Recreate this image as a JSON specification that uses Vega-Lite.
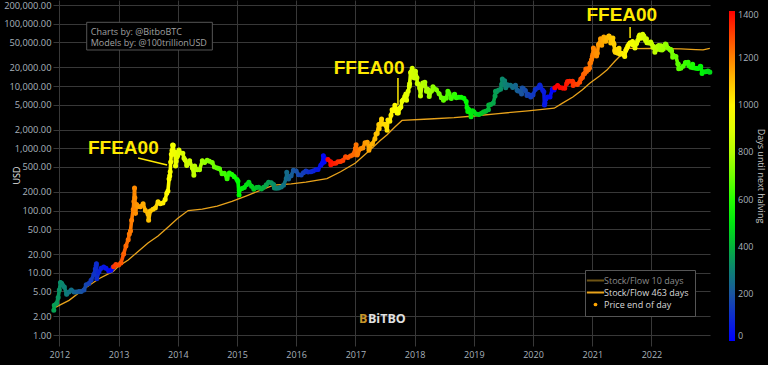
{
  "$schema": "https://vega.github.io/schema/vega-lite/v6.json",
  "width": 657,
  "height": 346,
  "autosize": {"type": "none"},
  "padding": {"left": 53, "top": 0, "right": 58, "bottom": 19},
  "background": "#000000",
  "config": {
    "view": {"stroke": null},
    "font": "Open Sans"
  },
  "datasets": {
    "price": [
      {"d":"2011-11-28","p":2.5,"h":366},{"d":"2011-12-01","p":3.0,"h":363},{"d":"2011-12-15","p":3.2,"h":349},{"d":"2011-12-25","p":4.0,"h":339},
      {"d":"2012-01-01","p":5.3,"h":332},{"d":"2012-01-08","p":7.0,"h":325},{"d":"2012-01-15","p":6.8,"h":318},{"d":"2012-01-22","p":6.3,"h":311},
      {"d":"2012-02-01","p":5.9,"h":301},{"d":"2012-02-15","p":4.5,"h":287},{"d":"2012-03-01","p":4.9,"h":272},{"d":"2012-03-15","p":5.3,"h":258},
      {"d":"2012-04-01","p":4.9,"h":241},{"d":"2012-04-15","p":4.9,"h":227},{"d":"2012-05-01","p":5.0,"h":211},{"d":"2012-05-15","p":5.0,"h":197},
      {"d":"2012-06-01","p":5.3,"h":180},{"d":"2012-06-15","p":6.4,"h":166},{"d":"2012-07-01","p":6.7,"h":150},{"d":"2012-07-15","p":7.6,"h":136},
      {"d":"2012-08-01","p":9.4,"h":119},{"d":"2012-08-10","p":11.5,"h":110},{"d":"2012-08-15","p":13.0,"h":105},{"d":"2012-08-17","p":14.0,"h":103},{"d":"2012-08-19","p":8.0,"h":101},
      {"d":"2012-09-01","p":10.3,"h":88},{"d":"2012-09-15","p":11.8,"h":74},{"d":"2012-10-01","p":12.4,"h":58},{"d":"2012-10-15","p":11.8,"h":44},
      {"d":"2012-11-01","p":10.7,"h":27},{"d":"2012-11-15","p":11.0,"h":13},{"d":"2012-11-27","p":12.2,"h":1},
      {"d":"2012-12-01","p":12.5,"h":1316},{"d":"2012-12-15","p":13.5,"h":1302},
      {"d":"2013-01-01","p":13.3,"h":1285},{"d":"2013-01-15","p":14.3,"h":1271},{"d":"2013-02-01","p":20,"h":1254},{"d":"2013-02-15","p":27,"h":1240},
      {"d":"2013-03-01","p":34,"h":1226},{"d":"2013-03-08","p":42,"h":1219},{"d":"2013-03-15","p":47,"h":1212},{"d":"2013-03-22","p":70,"h":1205},
      {"d":"2013-04-01","p":104,"h":1195},{"d":"2013-04-05","p":140,"h":1191},{"d":"2013-04-09","p":230,"h":1187},{"d":"2013-04-11","p":160,"h":1185},
      {"d":"2013-04-15","p":90,"h":1181},{"d":"2013-04-22","p":125,"h":1174},{"d":"2013-05-01","p":116,"h":1165},{"d":"2013-05-15","p":115,"h":1151},
      {"d":"2013-06-01","p":128,"h":1134},{"d":"2013-06-15","p":100,"h":1120},{"d":"2013-07-01","p":88,"h":1104},{"d":"2013-07-05","p":70,"h":1100},
      {"d":"2013-07-15","p":98,"h":1090},{"d":"2013-08-01","p":105,"h":1073},{"d":"2013-08-15","p":110,"h":1059},{"d":"2013-09-01","p":138,"h":1042},
      {"d":"2013-09-15","p":128,"h":1028},{"d":"2013-10-01","p":132,"h":1012},{"d":"2013-10-15","p":150,"h":998},{"d":"2013-10-25","p":190,"h":988},
      {"d":"2013-11-01","p":205,"h":981},{"d":"2013-11-08","p":320,"h":974},{"d":"2013-11-12","p":360,"h":970},{"d":"2013-11-15","p":420,"h":967},
      {"d":"2013-11-18","p":600,"h":964},{"d":"2013-11-22","p":800,"h":960},{"d":"2013-11-26","p":920,"h":956},{"d":"2013-11-30","p":1130,"h":952},
      {"d":"2013-12-04","p":1120,"h":948},{"d":"2013-12-08","p":800,"h":944},{"d":"2013-12-15","p":870,"h":937},{"d":"2013-12-18","p":520,"h":934},
      {"d":"2013-12-22","p":620,"h":930},{"d":"2013-12-28","p":730,"h":924},
      {"d":"2014-01-01","p":770,"h":920},{"d":"2014-01-08","p":940,"h":913},{"d":"2014-01-15","p":850,"h":906},{"d":"2014-02-01","p":830,"h":889},
      {"d":"2014-02-08","p":690,"h":882},{"d":"2014-02-15","p":650,"h":875},{"d":"2014-02-25","p":530,"h":865},{"d":"2014-03-01","p":560,"h":861},
      {"d":"2014-03-15","p":630,"h":847},{"d":"2014-04-01","p":480,"h":830},{"d":"2014-04-10","p":370,"h":821},{"d":"2014-04-15","p":520,"h":816},
      {"d":"2014-05-01","p":450,"h":800},{"d":"2014-05-15","p":450,"h":786},{"d":"2014-06-01","p":630,"h":769},{"d":"2014-06-15","p":590,"h":755},
      {"d":"2014-07-01","p":640,"h":739},{"d":"2014-07-15","p":620,"h":725},{"d":"2014-08-01","p":590,"h":708},{"d":"2014-08-15","p":500,"h":694},
      {"d":"2014-09-01","p":480,"h":677},{"d":"2014-09-15","p":470,"h":663},{"d":"2014-10-01","p":390,"h":647},{"d":"2014-10-15","p":395,"h":633},
      {"d":"2014-11-01","p":325,"h":616},{"d":"2014-11-15","p":400,"h":602},{"d":"2014-12-01","p":380,"h":586},{"d":"2014-12-15","p":350,"h":572},
      {"d":"2015-01-01","p":315,"h":555},{"d":"2015-01-07","p":295,"h":549},{"d":"2015-01-14","p":178,"h":542},{"d":"2015-01-15","p":210,"h":541},
      {"d":"2015-02-01","p":225,"h":524},{"d":"2015-02-15","p":235,"h":510},{"d":"2015-03-01","p":260,"h":496},{"d":"2015-03-15","p":285,"h":482},
      {"d":"2015-04-01","p":245,"h":465},{"d":"2015-04-15","p":220,"h":451},{"d":"2015-05-01","p":235,"h":435},{"d":"2015-05-15","p":237,"h":421},
      {"d":"2015-06-01","p":222,"h":404},{"d":"2015-06-15","p":236,"h":390},{"d":"2015-07-01","p":258,"h":374},{"d":"2015-07-15","p":285,"h":360},
      {"d":"2015-08-01","p":280,"h":343},{"d":"2015-08-15","p":262,"h":329},{"d":"2015-08-20","p":230,"h":324},{"d":"2015-09-01","p":228,"h":312},
      {"d":"2015-09-15","p":230,"h":298},{"d":"2015-10-01","p":238,"h":282},{"d":"2015-10-15","p":255,"h":268},{"d":"2015-11-01","p":325,"h":251},
      {"d":"2015-11-04","p":410,"h":248},{"d":"2015-11-15","p":320,"h":237},{"d":"2015-12-01","p":362,"h":221},{"d":"2015-12-15","p":445,"h":207},
      {"d":"2016-01-01","p":432,"h":190},{"d":"2016-01-15","p":375,"h":176},{"d":"2016-02-01","p":372,"h":159},{"d":"2016-02-15","p":405,"h":145},
      {"d":"2016-03-01","p":432,"h":130},{"d":"2016-03-15","p":415,"h":116},{"d":"2016-04-01","p":418,"h":99},{"d":"2016-04-15","p":430,"h":85},
      {"d":"2016-05-01","p":450,"h":69},{"d":"2016-05-15","p":457,"h":55},{"d":"2016-06-01","p":535,"h":38},{"d":"2016-06-10","p":575,"h":29},
      {"d":"2016-06-17","p":760,"h":22},{"d":"2016-06-22","p":600,"h":17},{"d":"2016-07-01","p":670,"h":8},{"d":"2016-07-08","p":665,"h":1},
      {"d":"2016-07-15","p":662,"h":1396},{"d":"2016-08-01","p":605,"h":1379},{"d":"2016-08-02","p":545,"h":1378},{"d":"2016-08-15","p":568,"h":1365},
      {"d":"2016-09-01","p":573,"h":1348},{"d":"2016-09-15","p":608,"h":1334},{"d":"2016-10-01","p":612,"h":1318},{"d":"2016-10-15","p":638,"h":1304},
      {"d":"2016-11-01","p":730,"h":1287},{"d":"2016-11-15","p":710,"h":1273},{"d":"2016-12-01","p":752,"h":1257},{"d":"2016-12-15","p":777,"h":1243},
      {"d":"2017-01-01","p":998,"h":1226},{"d":"2017-01-05","p":1140,"h":1222},{"d":"2017-01-11","p":780,"h":1216},{"d":"2017-01-15","p":820,"h":1212},
      {"d":"2017-02-01","p":985,"h":1195},{"d":"2017-02-15","p":1010,"h":1181},{"d":"2017-03-01","p":1220,"h":1167},{"d":"2017-03-15","p":1250,"h":1153},
      {"d":"2017-03-25","p":930,"h":1143},{"d":"2017-04-01","p":1080,"h":1136},{"d":"2017-04-15","p":1180,"h":1122},{"d":"2017-05-01","p":1420,"h":1106},
      {"d":"2017-05-08","p":1700,"h":1099},{"d":"2017-05-15","p":1730,"h":1092},{"d":"2017-05-25","p":2400,"h":1082},{"d":"2017-05-27","p":2050,"h":1080},
      {"d":"2017-06-01","p":2400,"h":1075},{"d":"2017-06-11","p":2950,"h":1065},{"d":"2017-06-15","p":2450,"h":1061},{"d":"2017-07-01","p":2430,"h":1045},
      {"d":"2017-07-15","p":1950,"h":1031},{"d":"2017-07-20","p":2850,"h":1026},{"d":"2017-08-01","p":2720,"h":1014},{"d":"2017-08-08","p":3400,"h":1007},
      {"d":"2017-08-15","p":4150,"h":1000},{"d":"2017-08-22","p":4000,"h":993},{"d":"2017-09-01","p":4900,"h":983},{"d":"2017-09-08","p":4300,"h":976},
      {"d":"2017-09-15","p":3700,"h":969},{"d":"2017-09-22","p":3700,"h":961},{"d":"2017-10-01","p":4400,"h":953},{"d":"2017-10-08","p":4600,"h":946},
      {"d":"2017-10-15","p":5700,"h":939},{"d":"2017-10-22","p":6000,"h":932},{"d":"2017-11-01","p":6750,"h":922},{"d":"2017-11-08","p":7450,"h":915},
      {"d":"2017-11-12","p":5900,"h":911},{"d":"2017-11-15","p":7300,"h":908},{"d":"2017-11-22","p":8200,"h":901},{"d":"2017-11-29","p":9900,"h":894},
      {"d":"2017-12-01","p":10900,"h":892},{"d":"2017-12-07","p":16500,"h":886},{"d":"2017-12-11","p":16700,"h":882},{"d":"2017-12-15","p":17600,"h":878},
      {"d":"2017-12-17","p":19300,"h":876},{"d":"2017-12-22","p":13800,"h":871},{"d":"2017-12-27","p":15700,"h":866},
      {"d":"2018-01-01","p":13500,"h":861},{"d":"2018-01-06","p":17200,"h":856},{"d":"2018-01-15","p":13600,"h":847},{"d":"2018-01-17","p":11000,"h":845},
      {"d":"2018-01-22","p":10900,"h":840},{"d":"2018-02-01","p":9200,"h":830},{"d":"2018-02-06","p":6900,"h":825},{"d":"2018-02-15","p":10100,"h":816},
      {"d":"2018-02-20","p":11200,"h":811},{"d":"2018-03-01","p":10900,"h":802},{"d":"2018-03-05","p":11500,"h":798},{"d":"2018-03-15","p":8250,"h":788},
      {"d":"2018-03-22","p":8900,"h":781},{"d":"2018-04-01","p":6800,"h":771},{"d":"2018-04-15","p":8350,"h":757},{"d":"2018-04-24","p":9700,"h":748},
      {"d":"2018-05-01","p":9100,"h":741},{"d":"2018-05-15","p":8700,"h":727},{"d":"2018-06-01","p":7500,"h":710},{"d":"2018-06-15","p":6500,"h":696},
      {"d":"2018-06-28","p":5900,"h":683},{"d":"2018-07-01","p":6350,"h":680},{"d":"2018-07-15","p":6350,"h":666},{"d":"2018-07-25","p":8200,"h":656},
      {"d":"2018-08-01","p":7600,"h":649},{"d":"2018-08-15","p":6300,"h":635},{"d":"2018-09-01","p":7200,"h":618},{"d":"2018-09-05","p":7400,"h":614},
      {"d":"2018-09-15","p":6500,"h":604},{"d":"2018-10-01","p":6600,"h":588},{"d":"2018-10-15","p":6600,"h":574},{"d":"2018-11-01","p":6350,"h":557},
      {"d":"2018-11-15","p":5650,"h":543},{"d":"2018-11-20","p":4500,"h":538},{"d":"2018-11-25","p":3900,"h":533},{"d":"2018-12-01","p":4200,"h":527},
      {"d":"2018-12-15","p":3200,"h":513},{"d":"2018-12-24","p":4000,"h":504},
      {"d":"2019-01-01","p":3850,"h":496},{"d":"2019-01-15","p":3550,"h":482},{"d":"2019-02-01","p":3480,"h":465},{"d":"2019-02-15","p":3620,"h":451},
      {"d":"2019-03-01","p":3820,"h":437},{"d":"2019-03-15","p":3920,"h":423},{"d":"2019-04-01","p":4150,"h":406},{"d":"2019-04-03","p":4950,"h":404},
      {"d":"2019-04-15","p":5050,"h":392},{"d":"2019-05-01","p":5350,"h":376},{"d":"2019-05-12","p":6900,"h":365},{"d":"2019-05-15","p":8200,"h":362},
      {"d":"2019-05-20","p":8000,"h":357},{"d":"2019-06-01","p":8550,"h":345},{"d":"2019-06-15","p":8850,"h":331},{"d":"2019-06-22","p":10700,"h":324},
      {"d":"2019-06-26","p":12900,"h":320},{"d":"2019-07-01","p":10600,"h":315},{"d":"2019-07-10","p":12100,"h":306},{"d":"2019-07-15","p":10900,"h":301},
      {"d":"2019-07-17","p":9400,"h":299},{"d":"2019-08-01","p":10400,"h":284},{"d":"2019-08-15","p":10300,"h":270},{"d":"2019-08-29","p":9500,"h":256},
      {"d":"2019-09-01","p":9800,"h":253},{"d":"2019-09-15","p":10300,"h":239},{"d":"2019-09-25","p":8550,"h":230},{"d":"2019-10-01","p":8300,"h":223},
      {"d":"2019-10-15","p":8150,"h":209},{"d":"2019-10-23","p":7450,"h":201},{"d":"2019-10-26","p":9250,"h":198},{"d":"2019-11-01","p":9200,"h":192},
      {"d":"2019-11-15","p":8500,"h":178},{"d":"2019-11-25","p":7050,"h":168},{"d":"2019-12-01","p":7400,"h":162},{"d":"2019-12-15","p":7100,"h":148},
      {"d":"2019-12-18","p":6650,"h":145},
      {"d":"2020-01-01","p":7200,"h":131},{"d":"2020-01-15","p":8800,"h":117},{"d":"2020-02-01","p":9400,"h":100},{"d":"2020-02-12","p":10350,"h":89},
      {"d":"2020-02-15","p":9900,"h":86},{"d":"2020-03-01","p":8550,"h":71},{"d":"2020-03-08","p":8050,"h":64},{"d":"2020-03-12","p":4950,"h":60},
      {"d":"2020-03-15","p":5350,"h":57},{"d":"2020-03-20","p":6200,"h":52},{"d":"2020-04-01","p":6650,"h":40},{"d":"2020-04-15","p":6650,"h":26},
      {"d":"2020-04-29","p":8800,"h":12},{"d":"2020-05-01","p":8850,"h":10},{"d":"2020-05-10","p":8600,"h":1},
      {"d":"2020-05-15","p":9400,"h":1436},{"d":"2020-06-01","p":10200,"h":1419},{"d":"2020-06-15","p":9450,"h":1405},{"d":"2020-07-01","p":9250,"h":1389},
      {"d":"2020-07-15","p":9200,"h":1375},{"d":"2020-07-27","p":11000,"h":1363},{"d":"2020-08-01","p":11800,"h":1358},{"d":"2020-08-15","p":11900,"h":1344},
      {"d":"2020-09-01","p":11950,"h":1327},{"d":"2020-09-05","p":10200,"h":1323},{"d":"2020-09-15","p":10800,"h":1313},{"d":"2020-10-01","p":10600,"h":1297},
      {"d":"2020-10-15","p":11500,"h":1283},{"d":"2020-10-22","p":12950,"h":1276},{"d":"2020-11-01","p":13750,"h":1266},{"d":"2020-11-08","p":15500,"h":1259},
      {"d":"2020-11-15","p":15950,"h":1252},{"d":"2020-11-22","p":18700,"h":1245},{"d":"2020-11-26","p":17100,"h":1241},{"d":"2020-12-01","p":18800,"h":1236},
      {"d":"2020-12-08","p":18300,"h":1229},{"d":"2020-12-15","p":19400,"h":1222},{"d":"2020-12-17","p":23000,"h":1220},{"d":"2020-12-22","p":23800,"h":1215},
      {"d":"2020-12-27","p":26300,"h":1210},
      {"d":"2021-01-01","p":29400,"h":1205},{"d":"2021-01-04","p":32000,"h":1202},{"d":"2021-01-08","p":40600,"h":1198},{"d":"2021-01-11","p":35500,"h":1195},
      {"d":"2021-01-15","p":36800,"h":1191},{"d":"2021-01-22","p":33000,"h":1184},{"d":"2021-01-27","p":30400,"h":1179},{"d":"2021-02-01","p":33500,"h":1174},
      {"d":"2021-02-08","p":46200,"h":1167},{"d":"2021-02-15","p":48700,"h":1160},{"d":"2021-02-21","p":57500,"h":1154},{"d":"2021-02-28","p":45200,"h":1147},
      {"d":"2021-03-01","p":49600,"h":1146},{"d":"2021-03-08","p":52300,"h":1139},{"d":"2021-03-13","p":61200,"h":1134},{"d":"2021-03-15","p":55900,"h":1132},
      {"d":"2021-03-25","p":52300,"h":1122},{"d":"2021-04-01","p":58800,"h":1115},{"d":"2021-04-13","p":63500,"h":1103},{"d":"2021-04-15","p":63100,"h":1101},
      {"d":"2021-04-25","p":49000,"h":1091},{"d":"2021-05-01","p":57800,"h":1085},{"d":"2021-05-08","p":58800,"h":1078},{"d":"2021-05-12","p":49100,"h":1074},
      {"d":"2021-05-15","p":46700,"h":1071},{"d":"2021-05-19","p":37000,"h":1067},{"d":"2021-05-23","p":34700,"h":1063},{"d":"2021-05-27","p":38400,"h":1059},
      {"d":"2021-06-01","p":36600,"h":1054},{"d":"2021-06-08","p":33500,"h":1047},{"d":"2021-06-15","p":40200,"h":1040},{"d":"2021-06-22","p":32500,"h":1033},
      {"d":"2021-07-01","p":33500,"h":1024},{"d":"2021-07-15","p":31800,"h":1010},{"d":"2021-07-20","p":29800,"h":1005},{"d":"2021-07-26","p":37300,"h":999},
      {"d":"2021-08-01","p":39900,"h":993},{"d":"2021-08-08","p":43800,"h":986},{"d":"2021-08-15","p":47000,"h":979},{"d":"2021-08-22","p":49300,"h":972},
      {"d":"2021-09-01","p":48800,"h":962},{"d":"2021-09-06","p":51750,"h":957},{"d":"2021-09-08","p":46100,"h":955},{"d":"2021-09-15","p":48100,"h":948},
      {"d":"2021-09-21","p":40700,"h":942},{"d":"2021-10-01","p":48200,"h":932},{"d":"2021-10-08","p":53900,"h":925},{"d":"2021-10-15","p":61600,"h":918},
      {"d":"2021-10-20","p":65900,"h":913},{"d":"2021-10-27","p":58500,"h":906},{"d":"2021-11-01","p":61300,"h":901},{"d":"2021-11-08","p":67500,"h":894},
      {"d":"2021-11-15","p":63600,"h":887},{"d":"2021-11-19","p":58000,"h":883},{"d":"2021-11-26","p":53600,"h":876},{"d":"2021-12-01","p":57200,"h":871},
      {"d":"2021-12-04","p":49400,"h":868},{"d":"2021-12-15","p":48900,"h":857},{"d":"2021-12-27","p":50700,"h":845},
      {"d":"2022-01-01","p":47700,"h":840},{"d":"2022-01-10","p":41800,"h":831},{"d":"2022-01-15","p":43100,"h":826},{"d":"2022-01-22","p":35000,"h":819},
      {"d":"2022-02-01","p":38700,"h":809},{"d":"2022-02-10","p":43600,"h":800},{"d":"2022-02-15","p":44600,"h":795},{"d":"2022-02-24","p":38300,"h":786},
      {"d":"2022-03-01","p":44400,"h":781},{"d":"2022-03-07","p":38000,"h":775},{"d":"2022-03-15","p":39300,"h":767},{"d":"2022-03-28","p":47100,"h":754},
      {"d":"2022-04-01","p":46300,"h":750},{"d":"2022-04-15","p":40500,"h":736},{"d":"2022-04-26","p":38100,"h":725},{"d":"2022-05-01","p":38500,"h":720},
      {"d":"2022-05-05","p":36600,"h":716},{"d":"2022-05-12","p":29000,"h":709},{"d":"2022-05-15","p":31300,"h":706},{"d":"2022-06-01","p":29800,"h":689},
      {"d":"2022-06-13","p":22500,"h":677},{"d":"2022-06-15","p":22600,"h":675},{"d":"2022-06-18","p":19000,"h":672},{"d":"2022-07-01","p":19300,"h":659},
      {"d":"2022-07-15","p":20800,"h":645},{"d":"2022-07-30","p":23800,"h":630},{"d":"2022-08-01","p":23300,"h":628},{"d":"2022-08-15","p":24100,"h":614},
      {"d":"2022-08-20","p":21100,"h":609},{"d":"2022-09-01","p":20100,"h":597},{"d":"2022-09-12","p":22400,"h":586},{"d":"2022-09-15","p":19700,"h":583},
      {"d":"2022-10-01","p":19300,"h":567},{"d":"2022-10-15","p":19100,"h":553},{"d":"2022-10-29","p":20800,"h":539},{"d":"2022-11-01","p":20500,"h":536},
      {"d":"2022-11-09","p":15900,"h":528},{"d":"2022-11-15","p":16900,"h":522},{"d":"2022-12-01","p":17000,"h":506},{"d":"2022-12-15","p":17400,"h":492},
      {"d":"2022-12-20","p":16900,"h":487},{"d":"2022-12-27","p":16700,"h":480}
    ],
    "sf": [
      {"d":"2011-11-28","p":2.7,"s":"Stock/Flow 463 days"},{"d":"2012-03-01","p":3.6,"s":"Stock/Flow 463 days"},
      {"d":"2012-06-01","p":5.5,"s":"Stock/Flow 463 days"},{"d":"2012-09-01","p":8.0,"s":"Stock/Flow 463 days"},
      {"d":"2012-11-28","p":10.5,"s":"Stock/Flow 463 days"},{"d":"2013-01-01","p":12.8,"s":"Stock/Flow 463 days"},
      {"d":"2013-03-01","p":16,"s":"Stock/Flow 463 days"},{"d":"2013-05-01","p":22,"s":"Stock/Flow 463 days"},
      {"d":"2013-07-01","p":30,"s":"Stock/Flow 463 days"},{"d":"2013-09-01","p":39,"s":"Stock/Flow 463 days"},
      {"d":"2013-11-01","p":54,"s":"Stock/Flow 463 days"},{"d":"2014-01-01","p":75,"s":"Stock/Flow 463 days"},
      {"d":"2014-03-06","p":100,"s":"Stock/Flow 463 days"},{"d":"2014-06-01","p":105,"s":"Stock/Flow 463 days"},
      {"d":"2014-09-01","p":118,"s":"Stock/Flow 463 days"},{"d":"2014-12-01","p":140,"s":"Stock/Flow 463 days"},
      {"d":"2015-03-01","p":172,"s":"Stock/Flow 463 days"},{"d":"2015-06-01","p":215,"s":"Stock/Flow 463 days"},
      {"d":"2015-08-15","p":255,"s":"Stock/Flow 463 days"},{"d":"2015-12-01","p":268,"s":"Stock/Flow 463 days"},
      {"d":"2016-03-01","p":285,"s":"Stock/Flow 463 days"},{"d":"2016-07-09","p":325,"s":"Stock/Flow 463 days"},
      {"d":"2016-10-01","p":420,"s":"Stock/Flow 463 days"},{"d":"2017-01-01","p":580,"s":"Stock/Flow 463 days"},
      {"d":"2017-04-01","p":940,"s":"Stock/Flow 463 days"},{"d":"2017-06-01","p":1320,"s":"Stock/Flow 463 days"},
      {"d":"2017-07-15","p":1650,"s":"Stock/Flow 463 days"},{"d":"2017-09-01","p":2200,"s":"Stock/Flow 463 days"},
      {"d":"2017-10-15","p":2800,"s":"Stock/Flow 463 days"},{"d":"2018-04-01","p":2950,"s":"Stock/Flow 463 days"},
      {"d":"2018-09-01","p":3100,"s":"Stock/Flow 463 days"},{"d":"2019-01-01","p":3300,"s":"Stock/Flow 463 days"},
      {"d":"2019-06-01","p":3600,"s":"Stock/Flow 463 days"},{"d":"2019-12-01","p":4000,"s":"Stock/Flow 463 days"},
      {"d":"2020-05-11","p":4400,"s":"Stock/Flow 463 days"},{"d":"2020-07-01","p":5300,"s":"Stock/Flow 463 days"},
      {"d":"2020-09-03","p":6650,"s":"Stock/Flow 463 days"},{"d":"2020-11-01","p":8700,"s":"Stock/Flow 463 days"},
      {"d":"2020-12-18","p":11200,"s":"Stock/Flow 463 days"},{"d":"2021-02-15","p":14500,"s":"Stock/Flow 463 days"},
      {"d":"2021-04-01","p":18000,"s":"Stock/Flow 463 days"},{"d":"2021-05-20","p":25000,"s":"Stock/Flow 463 days"},
      {"d":"2021-07-09","p":33900,"s":"Stock/Flow 463 days"},{"d":"2021-08-17","p":40500,"s":"Stock/Flow 463 days"},
      {"d":"2021-10-01","p":40000,"s":"Stock/Flow 463 days"},{"d":"2022-01-01","p":40300,"s":"Stock/Flow 463 days"},
      {"d":"2022-04-01","p":40000,"s":"Stock/Flow 463 days"},{"d":"2022-07-01","p":39500,"s":"Stock/Flow 463 days"},
      {"d":"2022-10-01","p":38500,"s":"Stock/Flow 463 days"},{"d":"2022-11-15","p":38000,"s":"Stock/Flow 463 days"},
      {"d":"2022-12-27","p":40300,"s":"Stock/Flow 463 days"}
    ],
    "notes": [
      {"d":"2013-01-30","p":1010,"t":"FFEA00"},
      {"d":"2017-03-26","p":19450,"t":"FFEA00"},
      {"d":"2021-07-02","p":138000,"t":"FFEA00"}
    ],
    "pointers": [
      {"d":"2013-05-01","p":697,"d2":"2013-10-27","p2":538},
      {"d":"2017-09-20","p":13450,"d2":"2017-09-20","p2":4950},
      {"d":"2021-08-22","p":88700,"d2":"2021-08-22","p2":59000}
    ],
    "box": [
      {"d":"2012-06-18","p":105500,"d2":"2014-08-02","p2":37900}
    ],
    "info": [
      {"d":"2012-07-13","p":73700,"t":"Charts by: @BitboBTC"},
      {"d":"2012-07-13","p":49100,"t":"Models by: @100trillionUSD"}
    ],
    "logo": [
      {"d":"2017-01-23","p":1.8,"t":"B","k":"icon"},
      {"d":"2017-03-19","p":1.8,"t":"BiTBO","k":"word"}
    ]
  },
  "encoding": {
    "x": {
      "field": "d",
      "type": "temporal",
      "scale": {"domain": [{"year": 2011, "month": 11, "date": 23}, {"year": 2022, "month": 12, "date": 28}]},
      "axis": {
        "title": null,
        "format": "%Y",
        "tickCount": {"interval": "year", "step": 1},
        "grid": true,
        "gridColor": "#383838",
        "domain": false,
        "ticks": false,
        "labelColor": "#a8b2bc",
        "labelFontSize": 9,
        "labelFont": "Open Sans",
        "labelPadding": 4,
        "labelFlush": false
      }
    },
    "y": {
      "field": "p",
      "type": "quantitative",
      "scale": {"type": "log", "domain": [0.666, 240800], "nice": false},
      "axis": {
        "title": "USD",
        "values": [1, 2, 5, 10, 20, 50, 100, 200, 500, 1000, 2000, 5000, 10000, 20000, 50000, 100000, 200000],
        "format": ",.2f",
        "grid": true,
        "gridColor": "#383838",
        "domain": false,
        "ticks": false,
        "labelColor": "#a8b2bc",
        "labelFontSize": 9.3,
        "labelFont": "Open Sans",
        "labelPadding": 2,
        "labelFlush": false,
        "titleColor": "#e8e8e8",
        "titleFontSize": 9,
        "titleFontWeight": "normal",
        "titleFont": "Open Sans",
        "titleX": -37,
        "titleY": 175,
        "titleAlign": "center",
        "titleBaseline": "middle",
        "titleAngle": 270
      }
    }
  },
  "layer": [
    {
      "data": {"name": "box"},
      "mark": {"type": "rect", "fill": "#000000", "stroke": "#555555", "strokeWidth": 1},
      "encoding": {"x2": {"field": "d2"}, "y2": {"field": "p2"}}
    },
    {
      "data": {"name": "sf"},
      "mark": {"type": "line", "strokeWidth": 1.3},
      "encoding": {
        "stroke": {
          "field": "s",
          "type": "nominal",
          "scale": {
            "domain": ["Stock/Flow 10 days", "Stock/Flow 463 days", "Price end of day"],
            "range": ["#6e5414", "#e9a31b", "#ffa500"]
          },
          "legend": {
            "title": null,
            "orient": "none",
            "legendX": 532,
            "legendY": 270,
            "padding": 6,
            "fillColor": "#000000",
            "strokeColor": "#555555",
            "symbolType": "stroke",
            "symbolSize": 300,
            "symbolStrokeWidth": 2,
            "labelFontSize": 9,
            "labelFont": "Open Sans",
            "labelColor": "#d8d8d8",
            "labelOffset": 4,
            "rowPadding": 2,
            "encode": {
              "symbols": {
                "update": {
                  "shape": {"signal": "datum.value === 'Price end of day' ? 'circle' : 'stroke'"},
                  "size": {"signal": "datum.value === 'Price end of day' ? 14 : 300"},
                  "fill": {"signal": "datum.value === 'Price end of day' ? '#ffa500' : 'transparent'"},
                  "strokeWidth": {"signal": "datum.value === 'Price end of day' ? 0 : 2"}
                }
              },
              "labels": {
                "update": {
                  "fill": {"signal": "datum.value === 'Stock/Flow 10 days' ? '#8a8a8a' : '#d8d8d8'"}
                }
              }
            }
          }
        }
      }
    },
    {
      "data": {"name": "price"},
      "transform": [
        {"window": [{"op": "lead", "field": "d", "as": "dn"}, {"op": "lead", "field": "p", "as": "pn"}], "sort": [{"field": "d", "order": "ascending"}]},
        {"filter": "datum.pn != null"}
      ],
      "mark": {"type": "rule", "strokeWidth": 3.6, "strokeCap": "round"},
      "encoding": {
        "x2": {"field": "dn"},
        "y2": {"field": "pn"},
        "color": {
          "field": "h",
          "type": "quantitative",
          "scale": {
            "domain": [0, 200, 320, 450, 550, 700, 820, 980, 1100, 1230, 1400],
            "range": ["#0000ff", "#1a55a0", "#0a8a6a", "#00cc20", "#00ff00", "#70ff00", "#c0ff00", "#ffff00", "#ffc000", "#ff7000", "#ff0000"],
            "interpolate": "rgb",
            "clamp": true
          },
          "legend": {
            "type": "gradient",
            "orient": "none",
            "legendX": 676,
            "legendY": 11,
            "padding": 0,
            "direction": "vertical",
            "gradientLength": 330,
            "gradientThickness": 6,
            "gradientStrokeWidth": 0,
            "values": [0, 200, 400, 600, 800, 1000, 1200, 1400],
            "format": "d",
            "labelFontSize": 9,
            "labelFont": "Open Sans",
            "labelColor": "#a8b2bc",
            "labelOffset": 3,
            "title": "Days until next halving",
            "titleOrient": "right",
            "titleAngle": 270,
            "titleAnchor": "middle",
            "titleColor": "#c8c8c8",
            "titleFontSize": 9,
            "titleFont": "Open Sans",
            "titleFontWeight": "normal",
            "titlePadding": -3
          }
        }
      }
    },
    {
      "data": {"name": "price"},
      "mark": {"type": "circle", "filled": false, "size": 7, "strokeWidth": 2.4, "opacity": 1},
      "encoding": {
        "color": {
          "field": "h",
          "type": "quantitative",
          "scale": {
            "domain": [0, 200, 320, 450, 550, 700, 820, 980, 1100, 1230, 1400],
            "range": ["#0000ff", "#1a55a0", "#0a8a6a", "#00cc20", "#00ff00", "#70ff00", "#c0ff00", "#ffff00", "#ffc000", "#ff7000", "#ff0000"],
            "interpolate": "rgb",
            "clamp": true
          },
          "legend": {
            "type": "gradient",
            "orient": "none",
            "legendX": 676,
            "legendY": 11,
            "padding": 0,
            "direction": "vertical",
            "gradientLength": 330,
            "gradientThickness": 6,
            "gradientStrokeWidth": 0,
            "values": [0, 200, 400, 600, 800, 1000, 1200, 1400],
            "format": "d",
            "labelFontSize": 9,
            "labelFont": "Open Sans",
            "labelColor": "#a8b2bc",
            "labelOffset": 3,
            "title": "Days until next halving",
            "titleOrient": "right",
            "titleAngle": 270,
            "titleAnchor": "middle",
            "titleColor": "#c8c8c8",
            "titleFontSize": 9,
            "titleFont": "Open Sans",
            "titleFontWeight": "normal",
            "titlePadding": -3
          }
        }
      }
    },
    {
      "data": {"name": "pointers"},
      "mark": {"type": "rule", "color": "#FFEA00", "strokeWidth": 1.5},
      "encoding": {"x2": {"field": "d2"}, "y2": {"field": "p2"}}
    },
    {
      "data": {"name": "notes"},
      "mark": {"type": "text", "color": "#FFEA00", "font": "Liberation Sans", "fontSize": 19, "fontWeight": "bold", "align": "center", "baseline": "middle"},
      "encoding": {"text": {"field": "t"}}
    },
    {
      "data": {"name": "info"},
      "mark": {"type": "text", "color": "#a0a0a0", "font": "Open Sans", "fontSize": 9, "align": "left", "baseline": "middle"},
      "encoding": {"text": {"field": "t"}}
    },
    {
      "data": {"name": "logo"},
      "mark": {"type": "text", "font": "Open Sans", "fontSize": 12.5, "fontWeight": "bold", "align": "left", "baseline": "middle"},
      "encoding": {
        "text": {"field": "t"},
        "color": {"value": "#e0e0e0"},
        "fill": {"condition": {"test": "datum.k === 'icon'", "value": "#c8962a"}, "value": "#e0e0e0"}
      }
    }
  ]
}
